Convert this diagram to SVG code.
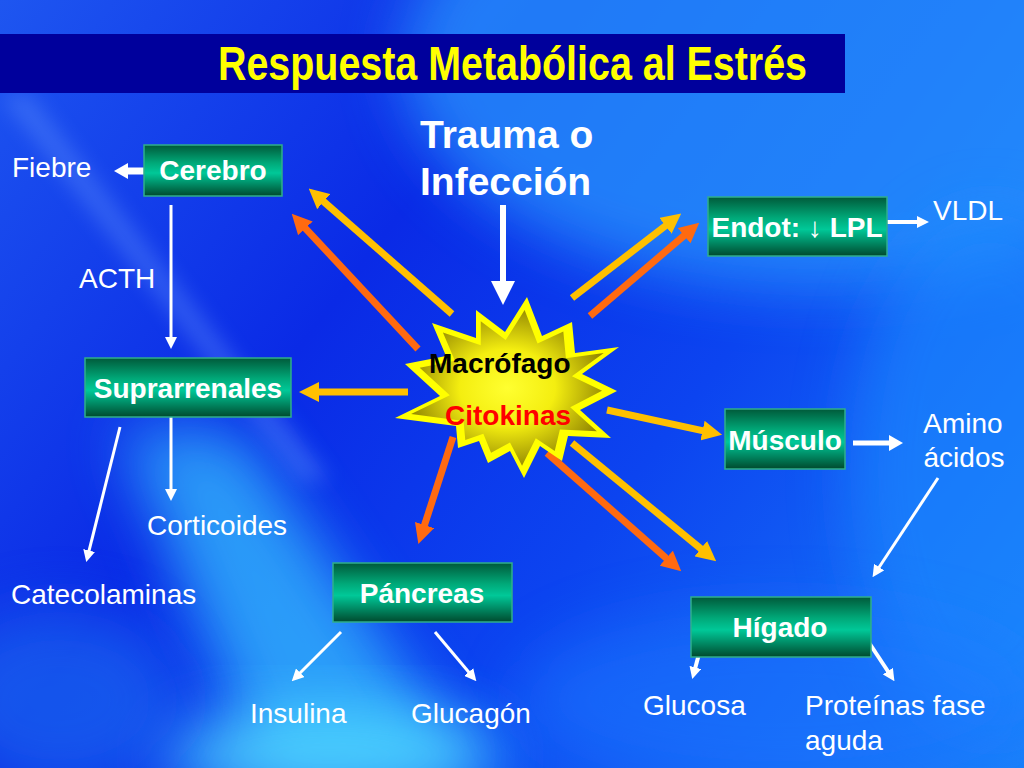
<svg xmlns="http://www.w3.org/2000/svg" width="1024" height="768" viewBox="0 0 1024 768">
<defs>
<linearGradient id="bg" gradientUnits="userSpaceOnUse" x1="0" y1="0" x2="1024" y2="768">
<stop offset="0" stop-color="#1e56f0"/>
<stop offset="0.35" stop-color="#0a2ae6"/>
<stop offset="0.62" stop-color="#0c44f0"/>
<stop offset="1" stop-color="#1a80fa"/>
</linearGradient>
<radialGradient id="starIn" cx="0.5" cy="0.5" r="0.55">
<stop offset="0" stop-color="#ffff30"/>
<stop offset="0.45" stop-color="#f4ee10"/>
<stop offset="1" stop-color="#8a7e00"/>
</radialGradient>
<linearGradient id="box" x1="0" y1="0" x2="0" y2="1">
<stop offset="0" stop-color="#005a3a"/>
<stop offset="0.35" stop-color="#00a878"/>
<stop offset="0.55" stop-color="#00c898"/>
<stop offset="1" stop-color="#004a2e"/>
</linearGradient>
<filter id="blur30" x="-50%" y="-50%" width="200%" height="200%"><feGaussianBlur stdDeviation="30"/></filter>
<filter id="blur10" x="-50%" y="-50%" width="200%" height="200%"><feGaussianBlur stdDeviation="10"/></filter>
<marker id="mY" markerUnits="userSpaceOnUse" viewBox="0 0 20 20" markerWidth="20" markerHeight="20" refX="1" refY="10" orient="auto"><path d="M0,0 L20,10 L0,20 z" fill="#ffc000"/></marker>
<marker id="mO" markerUnits="userSpaceOnUse" viewBox="0 0 20 20" markerWidth="20" markerHeight="20" refX="1" refY="10" orient="auto"><path d="M0,0 L20,10 L0,20 z" fill="#ff6a10"/></marker>
<marker id="mW" markerUnits="userSpaceOnUse" viewBox="0 0 12 12" markerWidth="12" markerHeight="12" refX="1" refY="6" orient="auto"><path d="M0,0 L12,6 L0,12 z" fill="#ffffff"/></marker>
<marker id="mW2" markerUnits="userSpaceOnUse" viewBox="0 0 14 16" markerWidth="14" markerHeight="16" refX="1" refY="8" orient="auto"><path d="M0,0 L14,8 L0,16 z" fill="#ffffff"/></marker>
<marker id="mWL" markerUnits="userSpaceOnUse" viewBox="0 0 24 24" markerWidth="24" markerHeight="24" refX="1" refY="12" orient="auto"><path d="M0,0 L24,12 L0,24 z" fill="#ffffff"/></marker>
<style>
.lbl{font-family:"Liberation Sans",Arial,sans-serif;font-size:28px;fill:#ffffff}
.bt{font-family:"Liberation Sans",Arial,sans-serif;font-size:28px;font-weight:bold;fill:#ffffff;text-anchor:middle}
.boxr{fill:url(#box);stroke:#2fae8c;stroke-width:1.5}
.ay{stroke:#ffc000;stroke-width:7;fill:none;marker-end:url(#mY)}
.ao{stroke:#ff6a10;stroke-width:7;fill:none;marker-end:url(#mO)}
.aw{stroke:#ffffff;stroke-width:3;fill:none;marker-end:url(#mW)}
.aw2{stroke:#ffffff;stroke-width:5;fill:none;marker-end:url(#mW2)}
</style>
</defs>

<g id="background">
<rect x="0" y="0" width="1024" height="768" fill="url(#bg)"/>
<ellipse cx="820" cy="60" rx="420" ry="230" fill="#2a9cff" opacity="0.7" filter="url(#blur30)"/>
<ellipse cx="990" cy="470" rx="140" ry="260" fill="#1e8cff" opacity="0.6" filter="url(#blur30)"/>
<polygon points="120,430 240,430 470,768 260,768" fill="#38c8ff" opacity="0.7" filter="url(#blur30)"/>
<ellipse cx="330" cy="755" rx="170" ry="45" fill="#55e2ff" opacity="0.8" filter="url(#blur30)"/>
<polygon points="0,95 30,95 330,480 300,480" fill="#6a9cff" opacity="0.35" filter="url(#blur10)"/>
<ellipse cx="60" cy="700" rx="120" ry="90" fill="#1a70f0" opacity="0.6" filter="url(#blur30)"/>
<ellipse cx="780" cy="700" rx="260" ry="90" fill="#1a78ff" opacity="0.5" filter="url(#blur30)"/>
</g>

<g id="title">
<rect x="0" y="34" width="845" height="59" fill="#00009c"/>
<text x="218" y="80" font-family="'Liberation Sans',Arial,sans-serif" font-size="48" font-weight="bold" fill="#ffff00" textLength="589" lengthAdjust="spacingAndGlyphs">Respuesta Metabólica al Estrés</text>
</g>

<g id="connectors">
<line class="ay" x1="452" y1="314" x2="323" y2="201"/>
<line class="ao" x1="418" y1="349" x2="304.7" y2="227.6"/>
<line class="ay" x1="408" y1="392" x2="318" y2="392"/>
<line class="ay" x1="572" y1="298" x2="666.2" y2="225.2"/>
<line class="ao" x1="590" y1="316" x2="684.8" y2="235"/>
<line class="ay" x1="607" y1="410" x2="703.5" y2="430.8"/>
<line class="ay" x1="572" y1="443" x2="701.5" y2="549.3"/>
<line class="ao" x1="547" y1="453" x2="667" y2="558.8"/>
<line class="ao" x1="453" y1="437" x2="424.2" y2="526"/>
<line stroke="#ffffff" stroke-width="6" x1="503" y1="205" x2="503" y2="282" marker-end="url(#mWL)"/>
<line stroke="#ffffff" stroke-width="7" x1="145" y1="171" x2="127" y2="171" marker-end="url(#mW2)"/>
<line class="aw" x1="171" y1="205" x2="171" y2="338"/>
<line class="aw" x1="171" y1="417" x2="171" y2="490"/>
<line class="aw" x1="120" y1="427" x2="88.9" y2="551.4"/>
<line class="aw" x1="341" y1="632" x2="299.5" y2="673.5"/>
<line class="aw" x1="435" y1="632" x2="469.3" y2="672.8"/>
<line class="aw" style="stroke-width:4" x1="700" y1="650" x2="695.1" y2="668.4"/>
<line class="aw" style="stroke-width:4" x1="862" y1="632" x2="888.4" y2="672"/>
<line class="aw" x1="938" y1="478" x2="878.6" y2="568"/>
<line class="aw" style="stroke-width:4" x1="887" y1="222" x2="918" y2="222"/>
<line class="aw2" x1="853" y1="443" x2="890" y2="443"/>
</g>

<g id="trauma">
<text class="lbl" x="420" y="148" style="font-size:39px;font-weight:bold">Trauma o</text>
<text class="lbl" x="420" y="195" style="font-size:39px;font-weight:bold">Infección</text>
</g>

<g id="macrofago">
<polygon points="527,297 542,336 572,322 575,353 619,347 582,374 617,391 580,410 611,438 568,436 562,461 540,446 524,478 510,451 488,463 479,441 458,448 456,426 395,418 440,396 405,364 446,356 432,323 476,338 476,310 505,332" fill="#ffff00"/>
<polygon transform="translate(510,390) scale(0.86) translate(-510,-390)" points="527,297 542,336 572,322 575,353 619,347 582,374 617,391 580,410 611,438 568,436 562,461 540,446 524,478 510,451 488,463 479,441 458,448 456,426 395,418 440,396 405,364 446,356 432,323 476,338 476,310 505,332" fill="url(#starIn)"/>
<text x="429" y="373" font-family="'Liberation Sans',Arial,sans-serif" font-size="28" font-weight="bold" fill="#000000">Macrófago</text>
<text x="445" y="425" font-family="'Liberation Sans',Arial,sans-serif" font-size="28" font-weight="bold" fill="#ff0000">Citokinas</text>
</g>

<g id="cerebro">
<rect class="boxr" x="144" y="145" width="138" height="51"/>
<text class="bt" x="213" y="180">Cerebro</text>
</g>
<g id="fiebre"><text class="lbl" x="12" y="177">Fiebre</text></g>
<g id="acth"><text class="lbl" x="79" y="288">ACTH</text></g>

<g id="suprarrenales">
<rect class="boxr" x="85" y="358" width="206" height="59"/>
<text class="bt" x="188" y="398">Suprarrenales</text>
</g>
<g id="corticoides"><text class="lbl" x="147" y="535">Corticoides</text></g>
<g id="catecolaminas"><text class="lbl" x="11" y="604">Catecolaminas</text></g>

<g id="pancreas">
<rect class="boxr" x="333" y="563" width="179" height="59"/>
<text class="bt" x="422" y="603">Páncreas</text>
</g>
<g id="insulina"><text class="lbl" x="250" y="723">Insulina</text></g>
<g id="glucagon"><text class="lbl" x="411" y="723">Glucagón</text></g>

<g id="endot">
<rect class="boxr" x="708" y="197" width="179" height="59"/>
<text class="bt" x="797" y="237">Endot: <tspan font-weight="normal">↓</tspan> LPL</text>
</g>
<g id="vldl"><text class="lbl" x="933" y="220">VLDL</text></g>

<g id="musculo">
<rect class="boxr" x="725" y="409" width="120" height="60"/>
<text class="bt" x="785" y="450">Músculo</text>
</g>
<g id="aminoacidos">
<text class="lbl" x="963" y="433" text-anchor="middle">Amino</text>
<text class="lbl" x="964" y="467" text-anchor="middle">ácidos</text>
</g>

<g id="higado">
<rect class="boxr" x="691" y="597" width="180" height="60"/>
<text class="bt" x="780" y="637">Hígado</text>
</g>
<g id="glucosa"><text class="lbl" x="643" y="715">Glucosa</text></g>
<g id="proteinas">
<text class="lbl" x="805" y="715">Proteínas fase</text>
<text class="lbl" x="805" y="750">aguda</text>
</g>
</svg>
